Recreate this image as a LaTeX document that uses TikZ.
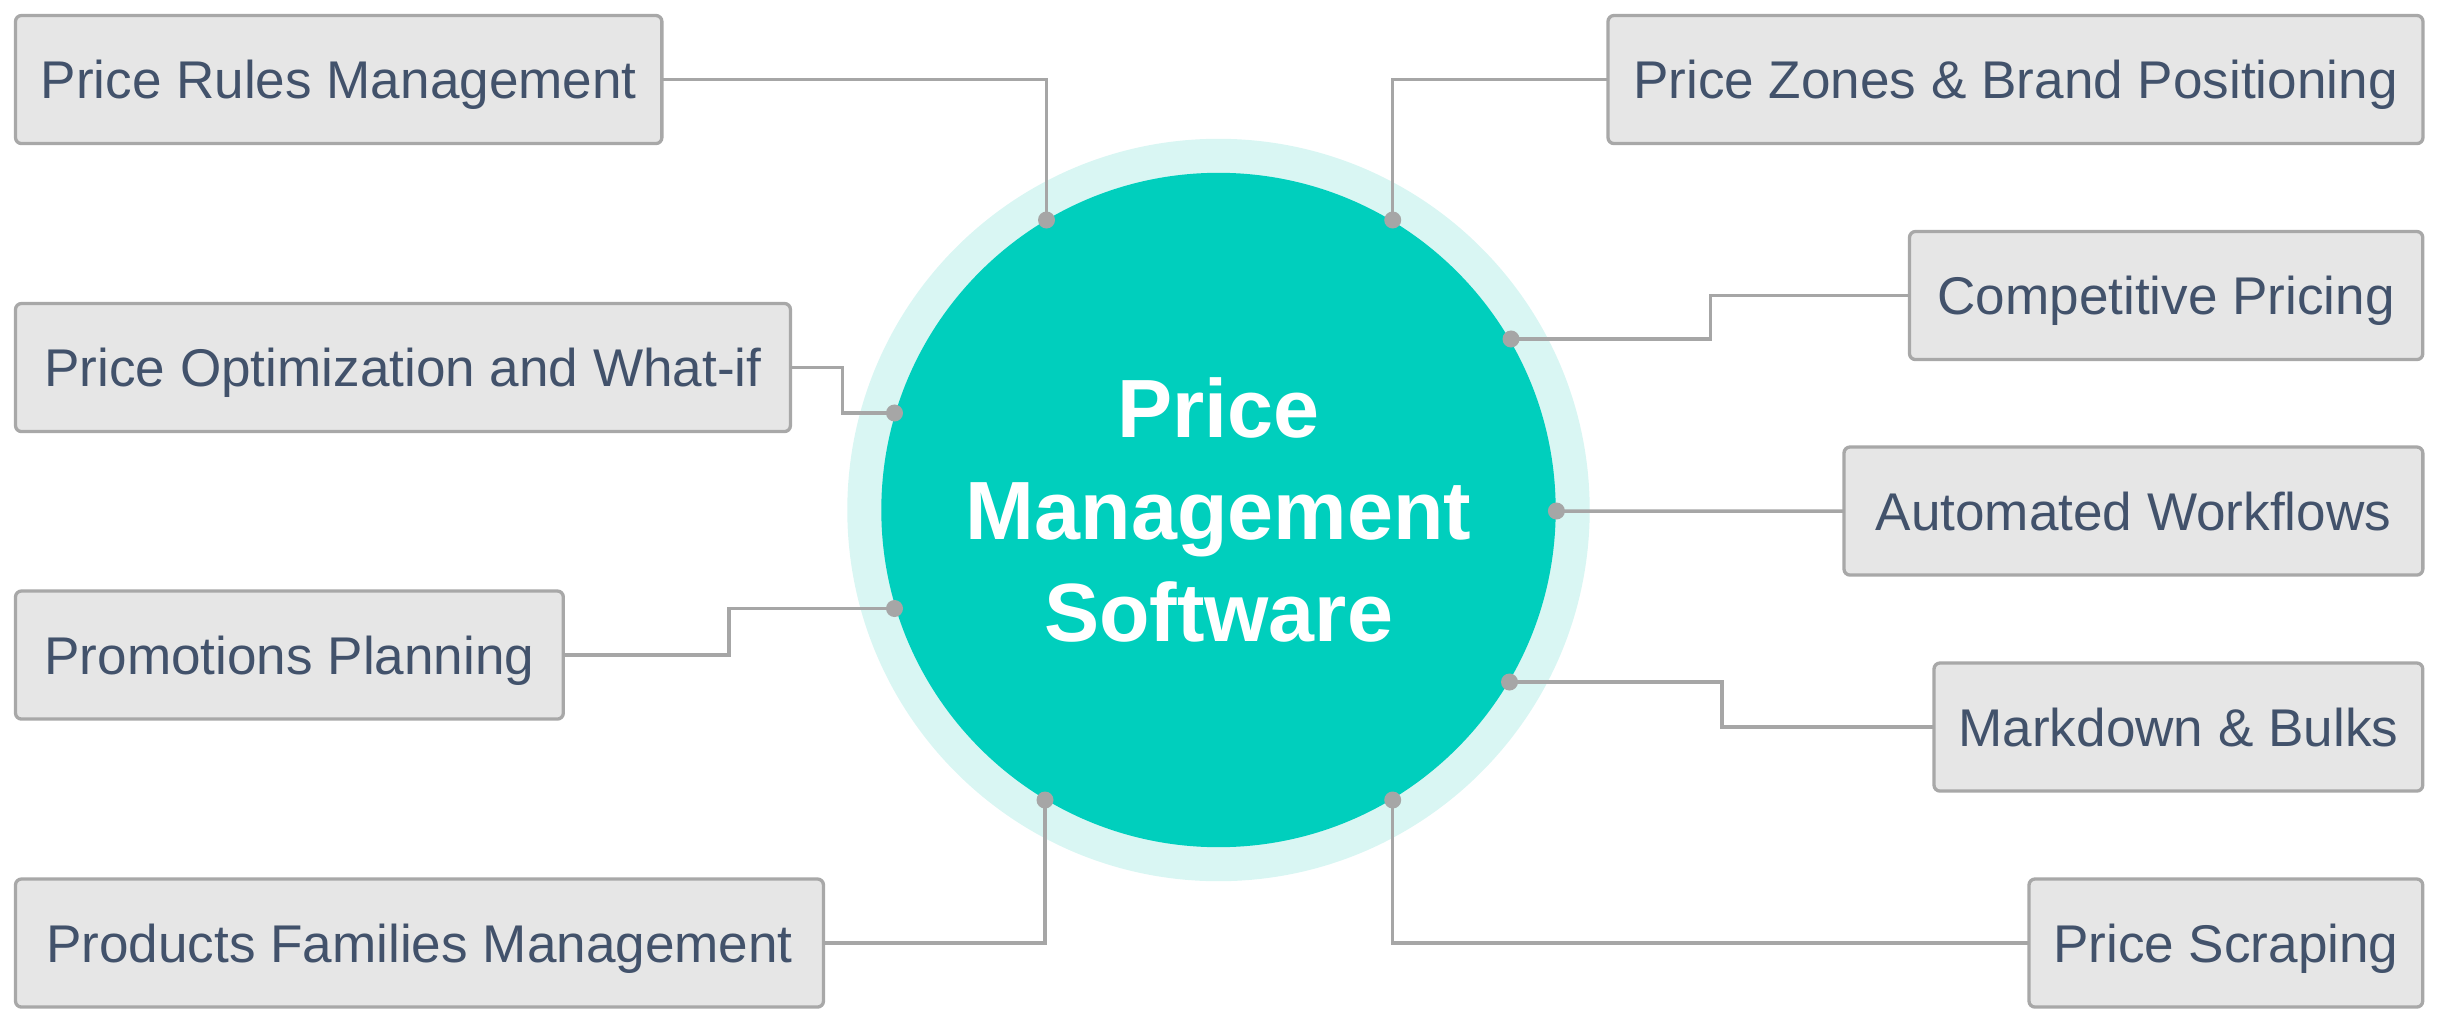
\documentclass[tikz,border=0pt]{standalone}
\usepackage{fontspec}
\setmainfont{Liberation Sans}
\usetikzlibrary{calc}
\definecolor{tealc}{HTML}{00CFBD}
\definecolor{ringc}{HTML}{D9F6F3}
\definecolor{boxfill}{HTML}{E6E6E6}
\definecolor{boxline}{HTML}{A8A8A8}
\definecolor{txtc}{HTML}{42526B}
\definecolor{conncol}{HTML}{A6A6A6}
\begin{document}
\begin{tikzpicture}[x=0.01cm,y=-0.01cm,
  box/.style={draw=boxline, fill=boxfill, line width=0.033cm, rounded corners=0.06cm,
    inner sep=0pt, outer sep=0pt, anchor=north west, minimum height=1.28cm,
    text=txtc, font=\fontsize{15.1}{18}\selectfont, text height=10.8pt, text depth=0pt},
  link/.style={draw=conncol, line width=0.035cm},
  pin/.style={fill=conncol}]
\useasboundingbox (0,0) rectangle (2438,1009);
% centre
\fill[ringc] (1218.5,510) circle[radius=3.71cm];
\node[circle, fill=tealc, minimum size=6.74cm, inner sep=0pt, text=white, align=center,
  font=\fontsize{23.5}{29}\selectfont\bfseries] (c) at (1218.5,510) {Price\\Management\\Software};
% boxes
\node[box, minimum width=6.46cm] (b1) at (15.5,15.5) {Price Rules Management};
\node[box, minimum width=7.745cm] (b2) at (15.5,303.5) {Price Optimization and What-if};
\node[box, minimum width=5.475cm] (b3) at (15.5,591) {Promotions Planning};
\node[box, minimum width=8.075cm] (b4) at (15.5,879) {Products Families Management};
\node[box, minimum width=8.145cm] (b5) at (1608,15.5) {Price Zones \& Brand Positioning};
\node[box, minimum width=5.13cm] (b6) at (1909.5,231.5) {Competitive Pricing};
\node[box, minimum width=5.785cm] (b7) at (1844,447) {Automated Workflows};
\node[box, minimum width=4.885cm] (b8) at (1934,663) {Markdown \& Bulks};
\node[box, minimum width=3.935cm] (b9) at (2029,879) {Price Scraping};
% attachment points
\coordinate (d1) at (1046.5,220);
\coordinate (d2) at (894.5,413);
\coordinate (d3) at (894.5,608.5);
\coordinate (d4) at (1045,800);
\coordinate (d5) at (1392.7,220);
\coordinate (d6) at (1511,339);
\coordinate (d7) at (1556.4,511);
\coordinate (d8) at (1509.5,682);
\coordinate (d9) at (1392.7,800);
% connectors
\draw[link] (b1.east) -| (d1);
\draw[link] (b2.east) -| ($(b2.east)!.5!(d2)$) |- (d2);
\draw[link] (b3.east) -| ($(b3.east)!.5!(d3)$) |- (d3);
\draw[link] (b4.east) -| (d4);
\draw[link] (b5.west) -| (d5);
\draw[link] (b6.west) -| ($(b6.west)!.5!(d6)$) |- (d6);
\draw[link] (b7.west) -- (d7);
\draw[link] (b8.west) -| ($(b8.west)!.5!(d8)$) |- (d8);
\draw[link] (b9.west) -| (d9);
\foreach \d in {d1,d2,d3,d4,d5,d6,d7,d8,d9}
  \fill[pin] (\d) circle[radius=0.085cm];
\end{tikzpicture}
\end{document}
